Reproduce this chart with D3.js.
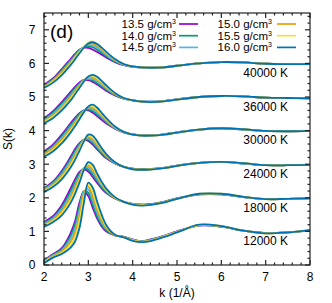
<!DOCTYPE html>
<html><head><meta charset="utf-8">
<script src="https://cdn.jsdelivr.net/npm/d3@7"></script>
<style>body{margin:0;background:#fff}svg{display:block}text{font-family:"Liberation Sans",Arial,sans-serif;fill:#000}</style>
</head><body><svg id="c" width="332" height="303"></svg>
<script>
const kGrid = [2.0,2.2,2.4,2.6,2.7,2.8,2.9,3.0,3.1,3.2,3.3,3.4,3.6,3.8,4.0,4.2,4.4,4.7,5.0,5.5,6.0,6.5,7.0,7.5,8.0];
const densities = ["13.5","14.0","14.5","15.0","15.5","16.0"];
const colors = ["#9400d3","#009e73","#56b4e9","#e69f00","#f0e442","#0072b2"];
const temperatures = ["12000 K","18000 K","24000 K","30000 K","36000 K","40000 K"];
const offsets = [0,1,2,3,4,5];
const xTicks = [2,3,4,5,6,7,8];
const yTicks = [0,1,2,3,4,5,6,7];

const s12000 = [
 [.15,.32,.50,.95,1.30,1.85,2.18,2.05,1.70,1.38,1.15,1.00,.88,.84,.76,.71,.76,.87,1.00,1.17,1.14,1.02,.95,.97,1.03],
 [.13,.30,.47,.86,1.20,1.75,2.20,2.15,1.80,1.45,1.20,1.04,.88,.84,.75,.70,.75,.86,.99,1.18,1.14,1.02,.95,.97,1.03],
 [.11,.28,.43,.78,1.08,1.62,2.18,2.25,1.92,1.55,1.27,1.08,.89,.83,.75,.70,.74,.85,.99,1.18,1.15,1.02,.95,.97,1.03],
 [.09,.26,.40,.69,.95,1.48,2.12,2.33,2.05,1.65,1.33,1.12,.89,.83,.74,.69,.73,.85,.98,1.19,1.15,1.02,.94,.97,1.04],
 [.07,.24,.36,.60,.82,1.30,2.00,2.40,2.18,1.75,1.42,1.16,.90,.82,.73,.69,.72,.84,.98,1.19,1.16,1.02,.94,.97,1.04],
 [.05,.22,.33,.52,.70,1.10,1.85,2.45,2.30,1.88,1.50,1.20,.90,.82,.72,.68,.71,.83,.97,1.20,1.16,1.02,.94,.97,1.04]];
const s18000 = [
 [.28,.45,.78,1.28,1.55,1.77,1.85,1.78,1.62,1.44,1.28,1.15,.98,.88,.82,.80,.81,.88,.98,1.10,1.10,1.02,.96,.97,.99],
 [.25,.41,.72,1.19,1.47,1.72,1.87,1.84,1.69,1.50,1.32,1.18,.99,.88,.82,.79,.81,.88,.98,1.10,1.10,1.02,.96,.97,.99],
 [.22,.38,.66,1.10,1.38,1.65,1.89,1.90,1.76,1.56,1.37,1.21,1.00,.88,.81,.79,.80,.87,.98,1.11,1.11,1.02,.96,.97,.99],
 [.19,.34,.60,1.02,1.30,1.59,1.88,1.96,1.83,1.62,1.41,1.23,1.00,.88,.81,.78,.80,.87,.97,1.11,1.11,1.03,.96,.97,.98],
 [.16,.31,.54,.93,1.21,1.52,1.86,2.01,1.91,1.67,1.44,1.26,1.01,.88,.80,.78,.79,.86,.97,1.12,1.12,1.03,.96,.97,.98],
 [.13,.27,.48,.85,1.12,1.45,1.83,2.06,1.98,1.72,1.48,1.28,1.02,.88,.80,.77,.79,.86,.97,1.12,1.12,1.03,.96,.97,.98]];
const s24000 = [
 [.29,.48,.80,1.22,1.45,1.63,1.72,1.69,1.58,1.44,1.30,1.18,1.02,.92,.87,.85,.86,.89,.96,1.04,1.07,1.02,.97,.97,.98],
 [.27,.45,.75,1.16,1.39,1.59,1.73,1.73,1.63,1.48,1.34,1.21,1.03,.92,.87,.85,.86,.89,.96,1.04,1.07,1.02,.97,.97,.98],
 [.25,.42,.70,1.10,1.33,1.55,1.73,1.77,1.68,1.53,1.38,1.24,1.04,.92,.86,.84,.85,.89,.96,1.04,1.07,1.02,.97,.97,.98],
 [.22,.38,.65,1.03,1.26,1.50,1.72,1.81,1.74,1.58,1.41,1.26,1.05,.92,.86,.84,.85,.88,.95,1.04,1.07,1.03,.97,.97,.98],
 [.20,.35,.60,.97,1.20,1.45,1.70,1.85,1.80,1.63,1.45,1.29,1.05,.92,.85,.83,.84,.88,.95,1.04,1.07,1.03,.97,.97,.98],
 [.17,.32,.55,.90,1.13,1.40,1.68,1.88,1.85,1.68,1.48,1.31,1.06,.92,.85,.83,.84,.88,.95,1.04,1.07,1.03,.97,.97,.98]];
const s30000 = [
 [.38,.58,.88,1.22,1.38,1.52,1.60,1.60,1.53,1.43,1.32,1.22,1.06,.95,.89,.86,.86,.89,.95,1.03,1.07,1.03,.99,.98,.99],
 [.35,.54,.83,1.17,1.33,1.49,1.60,1.63,1.58,1.48,1.37,1.26,1.07,.95,.89,.86,.86,.89,.95,1.03,1.07,1.03,.99,.98,.99],
 [.32,.51,.78,1.11,1.28,1.45,1.59,1.66,1.63,1.53,1.41,1.29,1.08,.95,.89,.86,.86,.89,.95,1.03,1.07,1.03,.99,.98,.99],
 [.29,.48,.73,1.06,1.23,1.42,1.58,1.68,1.68,1.58,1.45,1.32,1.10,.96,.88,.85,.85,.88,.94,1.03,1.07,1.04,.99,.98,.99],
 [.25,.42,.67,1.00,1.18,1.38,1.57,1.71,1.73,1.63,1.49,1.35,1.11,.96,.88,.85,.85,.88,.94,1.03,1.07,1.04,.99,.98,.99],
 [.22,.38,.62,.94,1.13,1.34,1.55,1.72,1.77,1.68,1.53,1.38,1.12,.96,.88,.85,.85,.88,.94,1.03,1.07,1.04,.99,.98,.99]];
const s36000 = [
 [.37,.57,.85,1.15,1.30,1.43,1.51,1.50,1.45,1.37,1.28,1.19,1.05,.95,.90,.87,.86,.88,.93,1.00,1.03,1.02,.98,.97,.96],
 [.34,.53,.80,1.10,1.26,1.40,1.51,1.53,1.49,1.41,1.32,1.22,1.06,.95,.90,.87,.86,.88,.93,1.00,1.03,1.02,.98,.97,.96],
 [.31,.49,.75,1.05,1.21,1.37,1.50,1.55,1.53,1.46,1.36,1.26,1.08,.96,.90,.87,.86,.88,.93,1.00,1.03,1.02,.98,.97,.96],
 [.28,.45,.70,1.00,1.17,1.34,1.49,1.58,1.58,1.51,1.40,1.29,1.09,.96,.90,.86,.85,.87,.92,1.00,1.03,1.02,.98,.97,.96],
 [.25,.41,.65,.95,1.12,1.30,1.48,1.60,1.62,1.56,1.44,1.32,1.11,.97,.90,.86,.85,.87,.92,1.00,1.03,1.02,.98,.97,.96],
 [.22,.37,.60,.90,1.08,1.27,1.46,1.61,1.66,1.60,1.48,1.35,1.12,.97,.90,.86,.85,.87,.92,1.00,1.03,1.02,.98,.97,.96]];
const s40000 = [
 [.36,.55,.83,1.13,1.28,1.41,1.47,1.46,1.41,1.34,1.26,1.18,1.04,.95,.90,.88,.87,.88,.93,1.00,1.04,1.03,.99,.98,.98],
 [.34,.52,.79,1.09,1.25,1.39,1.48,1.51,1.48,1.41,1.32,1.22,1.06,.96,.90,.88,.87,.88,.93,1.00,1.04,1.03,.99,.98,.98],
 [.32,.50,.76,1.06,1.22,1.37,1.49,1.55,1.53,1.47,1.37,1.26,1.08,.96,.90,.88,.87,.88,.93,1.00,1.04,1.03,.99,.98,.98],
 [.31,.48,.73,1.03,1.19,1.35,1.50,1.59,1.59,1.52,1.42,1.30,1.10,.97,.91,.88,.87,.88,.93,1.00,1.04,1.03,.99,.98,.98],
 [.29,.45,.69,.99,1.16,1.33,1.50,1.63,1.65,1.57,1.45,1.33,1.12,.97,.91,.88,.87,.88,.93,1.00,1.04,1.03,.99,.98,.98],
 [.27,.42,.65,.95,1.12,1.30,1.47,1.59,1.63,1.58,1.47,1.35,1.13,.98,.91,.88,.87,.88,.93,1.00,1.04,1.03,.99,.98,.98]];
const seriesByT = [s12000,s18000,s24000,s30000,s36000,s40000];

const svg = d3.select("#c");
const L = 44, R = 310, T = 13, B = 265;
const x = d3.scaleLinear().domain([2,8]).range([L,R]);
const y = d3.scaleLinear().domain([0,7.5]).range([B,T]);

const line = d3.line().x(d => x(d[0])).y(d => y(d[1])).curve(d3.curveCatmullRom.alpha(0.5));

const g = svg.append("g");
seriesByT.forEach((set, ti) => {
  set.forEach((vals, di) => {
    const pts = kGrid.map((k, i) => [k, vals[i] + offsets[ti]]);
    g.append("path").attr("d", line(pts)).attr("fill","none")
      .attr("stroke", colors[di]).attr("stroke-width", 1.8).attr("stroke-linejoin","round");
  });
  g.append("text").attr("x", 288).attr("y", y(offsets[ti] + 0.59))
    .attr("text-anchor","end").attr("font-size","12px").text(temperatures[ti]);
});

// frame
const ax = svg.append("g").attr("stroke","#222").attr("stroke-width",1.2).attr("fill","none");
ax.append("rect").attr("x",L).attr("y",T).attr("width",R-L).attr("height",B-T);
const xMinor = d3.range(2, 8.001, 0.2);
const yMinor = d3.range(0, 7.501, 0.2);
xMinor.forEach(v => {
  const major = Math.abs(v - Math.round(v)) < 1e-6;
  const len = major ? 5 : 2.5;
  ax.append("line").attr("x1",x(v)).attr("x2",x(v)).attr("y1",B).attr("y2",B-len);
  ax.append("line").attr("x1",x(v)).attr("x2",x(v)).attr("y1",T).attr("y2",T+len);
});
yMinor.forEach(v => {
  const major = Math.abs(v - Math.round(v)) < 1e-6;
  const len = major ? 5 : 2.5;
  ax.append("line").attr("y1",y(v)).attr("y2",y(v)).attr("x1",L).attr("x2",L+len);
  ax.append("line").attr("y1",y(v)).attr("y2",y(v)).attr("x1",R).attr("x2",R-len);
});
xTicks.forEach(v => svg.append("text").attr("x",x(v)).attr("y",281).attr("text-anchor","middle").attr("font-size","12px").text(v));
yTicks.forEach(v => svg.append("text").attr("x",35.5).attr("y",y(v)+4.3).attr("text-anchor","end").attr("font-size","12px").text(v));

svg.append("text").attr("x",177).attr("y",297).attr("text-anchor","middle").attr("font-size","12px").text("k (1/Å)");
svg.append("text").attr("transform","translate(12,139) rotate(-90)").attr("text-anchor","middle").attr("font-size","12px").text("S(k)");
svg.append("text").attr("x",50).attr("y",38).attr("font-size","19px").text("(d)");

// legend
densities.forEach((d, i) => {
  const col = i < 3 ? 0 : 1, row = i % 3;
  const tx = col === 0 ? 176 : 272;
  const lx = col === 0 ? 179 : 277;
  const cy = 24 + row * 11.7;
  const t = svg.append("text").attr("x",tx).attr("y",cy+4).attr("text-anchor","end").attr("font-size","11.5px");
  t.append("tspan").text(d + " g/cm");
  t.append("tspan").attr("dy",-4).attr("font-size","7px").text("3");
  svg.append("line").attr("x1",lx).attr("x2",lx+19).attr("y1",cy).attr("y2",cy).attr("stroke",colors[i]).attr("stroke-width",1.7);
});
</script></body></html>
